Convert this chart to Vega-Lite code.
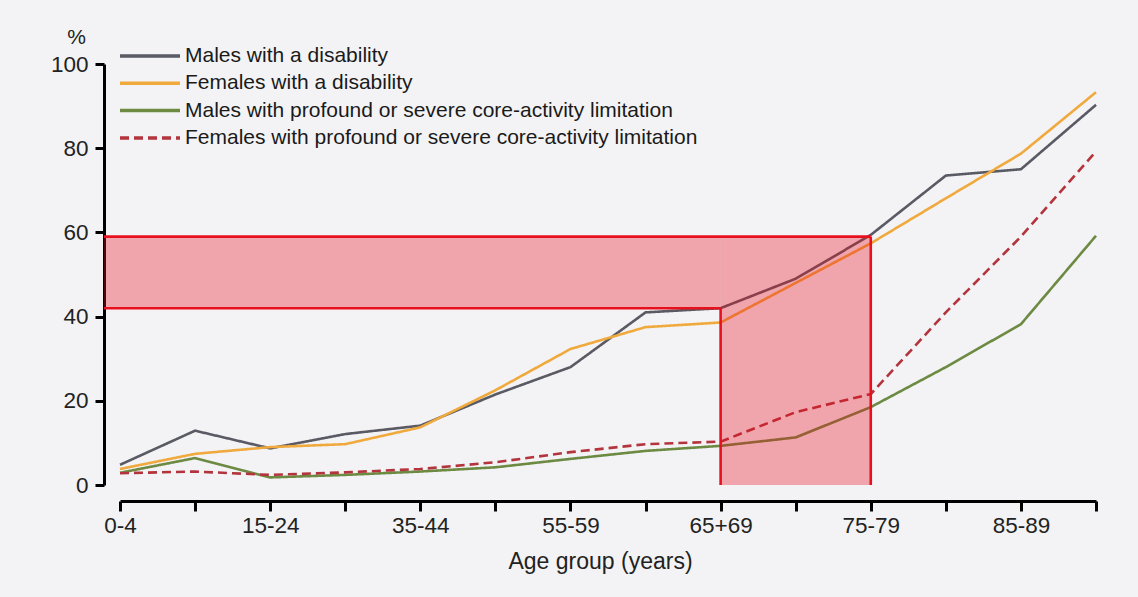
{
  "$schema": "https://vega.github.io/schema/vega-lite/v6.json",
  "width": 976,
  "height": 421,
  "autosize": {"type": "none"},
  "padding": {"left": 120, "top": 64, "right": 42, "bottom": 112},
  "background": "#f3f3f5",
  "config": {
    "view": {"stroke": null},
    "font": "Liberation Sans",
    "axis": {"grid": false, "domainColor": "#000000", "tickColor": "#000000", "labelColor": "#222222", "titleColor": "#222222", "labelFont": "Liberation Sans", "titleFont": "Liberation Sans", "titleFontWeight": "normal"}
  },
  "datasets": {
    "series": [
      {"age": "0-4", "series": "Males with a disability", "value": 4.8},
      {"age": "5-14", "series": "Males with a disability", "value": 12.9},
      {"age": "15-24", "series": "Males with a disability", "value": 8.7},
      {"age": "25-34", "series": "Males with a disability", "value": 12.1},
      {"age": "35-44", "series": "Males with a disability", "value": 14.1},
      {"age": "45-54", "series": "Males with a disability", "value": 21.5},
      {"age": "55-59", "series": "Males with a disability", "value": 28.0},
      {"age": "60-64", "series": "Males with a disability", "value": 41.0},
      {"age": "65+69", "series": "Males with a disability", "value": 42.0},
      {"age": "70-74", "series": "Males with a disability", "value": 49.0},
      {"age": "75-79", "series": "Males with a disability", "value": 59.4},
      {"age": "80-84", "series": "Males with a disability", "value": 73.5},
      {"age": "85-89", "series": "Males with a disability", "value": 75.0},
      {"age": "90+", "series": "Males with a disability", "value": 90.3},
      {"age": "0-4", "series": "Females with a disability", "value": 3.8},
      {"age": "5-14", "series": "Females with a disability", "value": 7.4},
      {"age": "15-24", "series": "Females with a disability", "value": 9.0},
      {"age": "25-34", "series": "Females with a disability", "value": 9.7},
      {"age": "35-44", "series": "Females with a disability", "value": 13.7},
      {"age": "45-54", "series": "Females with a disability", "value": 22.5},
      {"age": "55-59", "series": "Females with a disability", "value": 32.3},
      {"age": "60-64", "series": "Females with a disability", "value": 37.5},
      {"age": "65+69", "series": "Females with a disability", "value": 38.6},
      {"age": "70-74", "series": "Females with a disability", "value": 48.0},
      {"age": "75-79", "series": "Females with a disability", "value": 57.4},
      {"age": "80-84", "series": "Females with a disability", "value": 68.1},
      {"age": "85-89", "series": "Females with a disability", "value": 78.7},
      {"age": "90+", "series": "Females with a disability", "value": 93.3},
      {"age": "0-4", "series": "Males with profound or severe core-activity limitation", "value": 2.9},
      {"age": "5-14", "series": "Males with profound or severe core-activity limitation", "value": 6.4},
      {"age": "15-24", "series": "Males with profound or severe core-activity limitation", "value": 1.8},
      {"age": "25-34", "series": "Males with profound or severe core-activity limitation", "value": 2.4},
      {"age": "35-44", "series": "Males with profound or severe core-activity limitation", "value": 3.2},
      {"age": "45-54", "series": "Males with profound or severe core-activity limitation", "value": 4.2},
      {"age": "55-59", "series": "Males with profound or severe core-activity limitation", "value": 6.2},
      {"age": "60-64", "series": "Males with profound or severe core-activity limitation", "value": 8.1},
      {"age": "65+69", "series": "Males with profound or severe core-activity limitation", "value": 9.3},
      {"age": "70-74", "series": "Males with profound or severe core-activity limitation", "value": 11.3},
      {"age": "75-79", "series": "Males with profound or severe core-activity limitation", "value": 18.5},
      {"age": "80-84", "series": "Males with profound or severe core-activity limitation", "value": 28.0},
      {"age": "85-89", "series": "Males with profound or severe core-activity limitation", "value": 38.2},
      {"age": "90+", "series": "Males with profound or severe core-activity limitation", "value": 59.2},
      {"age": "0-4", "series": "Females with profound or severe core-activity limitation", "value": 2.8},
      {"age": "5-14", "series": "Females with profound or severe core-activity limitation", "value": 3.2},
      {"age": "15-24", "series": "Females with profound or severe core-activity limitation", "value": 2.4},
      {"age": "25-34", "series": "Females with profound or severe core-activity limitation", "value": 3.0},
      {"age": "35-44", "series": "Females with profound or severe core-activity limitation", "value": 3.8},
      {"age": "45-54", "series": "Females with profound or severe core-activity limitation", "value": 5.4},
      {"age": "55-59", "series": "Females with profound or severe core-activity limitation", "value": 7.8},
      {"age": "60-64", "series": "Females with profound or severe core-activity limitation", "value": 9.7},
      {"age": "65+69", "series": "Females with profound or severe core-activity limitation", "value": 10.3},
      {"age": "70-74", "series": "Females with profound or severe core-activity limitation", "value": 17.3},
      {"age": "75-79", "series": "Females with profound or severe core-activity limitation", "value": 21.6},
      {"age": "80-84", "series": "Females with profound or severe core-activity limitation", "value": 41.0},
      {"age": "85-89", "series": "Females with profound or severe core-activity limitation", "value": 59.0},
      {"age": "90+", "series": "Females with profound or severe core-activity limitation", "value": 79.2}
    ],
    "bandH": [{"from": "0-4", "to": "65+69", "lo": 42, "hi": 59}],
    "bandV": [{"from": "65+69", "to": "75-79", "lo": 0, "hi": 59}],
    "edgeH": [
      {"from": "0-4", "to": "75-79", "level": 59},
      {"from": "0-4", "to": "65+69", "level": 42}
    ],
    "edgeV": [
      {"at": "65+69", "lo": 0, "hi": 42},
      {"at": "75-79", "lo": 0, "hi": 59}
    ]
  },
  "layer": [
    {
      "data": {"name": "series"},
      "mark": {"type": "line", "strokeWidth": 2.6},
      "encoding": {
        "x": {
          "field": "age", "type": "ordinal",
          "scale": {"type": "point", "padding": 0, "domain": ["0-4", "5-14", "15-24", "25-34", "35-44", "45-54", "55-59", "60-64", "65+69", "70-74", "75-79", "80-84", "85-89", "90+"]},
          "axis": {
            "title": "Age group (years)", "titleFontSize": 23, "titleX": 480, "titleY": 60, "titleBaseline": "middle",
            "offset": 16, "domainWidth": 3, "tickWidth": 3, "tickSize": 10, "labelFontSize": 22.5, "labelPadding": 3, "labelAngle": 0,
            "labelExpr": "indexof(['0-4','15-24','35-44','55-59','65+69','75-79','85-89'], datum.value) >= 0 ? datum.value : ''"
          }
        },
        "y": {
          "field": "value", "type": "quantitative",
          "scale": {"domain": [0, 100], "nice": false},
          "axis": {
            "title": "%", "titleAngle": 0, "titleFontSize": 21, "titleX": -28, "titleY": -27, "titleAlign": "center", "titleBaseline": "middle",
            "values": [0, 20, 40, 60, 80, 100], "offset": 16, "domainWidth": 3, "tickWidth": 3, "tickSize": 9, "labelFontSize": 22.5, "labelPadding": 7
          }
        },
        "color": {
          "field": "series", "type": "nominal",
          "scale": {
            "domain": ["Males with a disability", "Females with a disability", "Males with profound or severe core-activity limitation", "Females with profound or severe core-activity limitation"],
            "range": ["#595a63", "#f0a93c", "#6c8a42", "#b3343c"]
          },
          "legend": {
            "title": null, "orient": "none", "legendX": -2, "legendY": -19,
            "symbolType": "stroke", "symbolSize": 3600, "symbolStrokeWidth": 3.5, "clipHeight": 22,
            "labelFontSize": 21, "labelColor": "#1a1a1a", "labelLimit": 800, "labelOffset": 3, "rowPadding": 5.3
          }
        },
        "strokeDash": {
          "field": "series", "type": "nominal",
          "scale": {
            "domain": ["Males with a disability", "Females with a disability", "Males with profound or severe core-activity limitation", "Females with profound or severe core-activity limitation"],
            "range": [[1, 0], [1, 0], [1, 0], [9, 5]]
          },
          "legend": {
            "title": null, "orient": "none", "legendX": -2, "legendY": -19,
            "symbolType": "stroke", "symbolSize": 3600, "symbolStrokeWidth": 3.5, "clipHeight": 22,
            "labelFontSize": 21, "labelColor": "#1a1a1a", "labelLimit": 800, "labelOffset": 3, "rowPadding": 5.3
          }
        }
      }
    },
    {
      "data": {"name": "bandH"},
      "mark": {"type": "rect", "color": "#e8101d", "opacity": 0.34, "xOffset": -16},
      "encoding": {
        "x": {"field": "from", "type": "ordinal"},
        "x2": {"field": "to"},
        "y": {"field": "lo", "type": "quantitative"},
        "y2": {"field": "hi"}
      }
    },
    {
      "data": {"name": "bandV"},
      "mark": {"type": "rect", "color": "#e8101d", "opacity": 0.34},
      "encoding": {
        "x": {"field": "from", "type": "ordinal"},
        "x2": {"field": "to"},
        "y": {"field": "lo", "type": "quantitative"},
        "y2": {"field": "hi"}
      }
    },
    {
      "data": {"name": "edgeH"},
      "mark": {"type": "rule", "color": "#e8101d", "strokeWidth": 2.6, "xOffset": -16},
      "encoding": {
        "x": {"field": "from", "type": "ordinal"},
        "x2": {"field": "to"},
        "y": {"field": "level", "type": "quantitative"}
      }
    },
    {
      "data": {"name": "edgeV"},
      "mark": {"type": "rule", "color": "#e8101d", "strokeWidth": 2.6},
      "encoding": {
        "x": {"field": "at", "type": "ordinal"},
        "y": {"field": "lo", "type": "quantitative"},
        "y2": {"field": "hi"}
      }
    }
  ]
}
